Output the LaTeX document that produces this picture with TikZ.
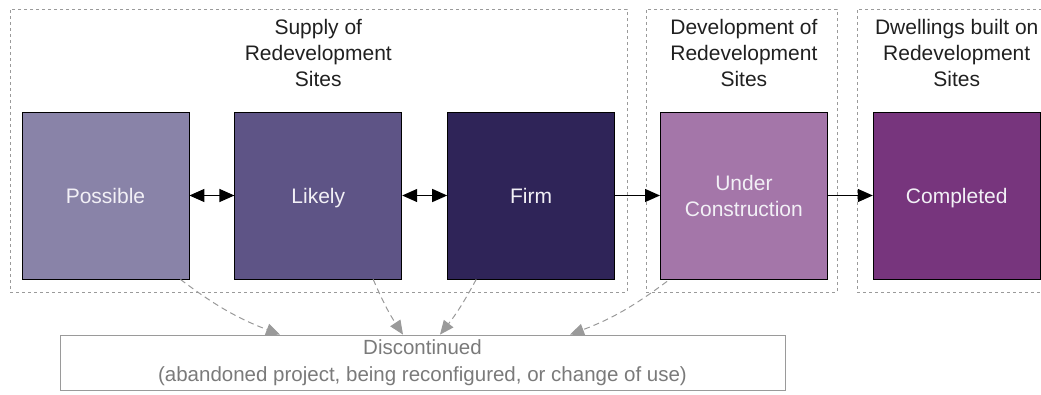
\documentclass[tikz,border=0pt]{standalone}
\usepackage{fontspec}
\setmainfont{Liberation Sans}
\usetikzlibrary{positioning,arrows.meta}
\definecolor{possible}{HTML}{8983A8}
\definecolor{likely}{HTML}{5E5486}
\definecolor{firm}{HTML}{2F2458}
\definecolor{under}{HTML}{A476A9}
\definecolor{done}{HTML}{77357D}
\definecolor{frame}{HTML}{9A9A9A}
\definecolor{greytext}{HTML}{7A7A7A}
\definecolor{titletext}{HTML}{202020}
\definecolor{boxtext}{HTML}{F2F0F6}

\begin{document}
\begin{tikzpicture}[
  x=1pt,y=-1pt,
  node distance=45pt,
  stage/.style={draw=black,line width=0.8pt,minimum width=167pt,minimum height=167pt,inner sep=0pt,align=center,text=boxtext,font=\fontsize{21}{26}\selectfont},
  oneline/.style={text height=16pt,text depth=1pt},
  ttl/.style={align=center,text=titletext,inner sep=0pt,font=\fontsize{21}{26}\selectfont},
  grp/.style={draw=frame,dashed,line width=0.7pt,inner sep=0pt},
  arr/.style={{Triangle[length=15pt,width=13pt]}-{Triangle[length=15pt,width=13pt]},line width=1.3pt,draw=black},
  fwd/.style={-{Triangle[length=15pt,width=13pt]},line width=1.3pt,draw=black},
  drop/.style={-{Triangle[length=14pt,width=12pt]},dash pattern=on 6pt off 4pt,line width=1pt,draw=frame}]
\useasboundingbox (0,0) rectangle (1041,394);
% stages
\node[stage,oneline,fill=possible] (poss) at (105.5,195.5) {Possible};
\node[stage,oneline,fill=likely,right=of poss] (likely) {Likely};
\node[stage,oneline,fill=firm,right=of likely] (firm) {Firm};
\node[stage,fill=under,right=of firm] (under) {Under\\Construction};
\node[stage,oneline,fill=done,right=of under] (done) {Completed};
% group frames and titles
\node[grp,minimum width=617pt,minimum height=283pt] (gsup) at (318.5,150.5) {};
\node[grp,minimum width=191pt,minimum height=283pt] (gdev) at (741.5,150.5) {};
\node[grp,minimum width=188pt,minimum height=283pt] (gdwl) at (951,150.5) {};
\node[ttl] (tsup) at ([yshift=59pt]likely.north) {Supply of\\Redevelopment\\Sites};
\node[ttl] (tdev) at ([yshift=59pt]under.north) {Development of\\Redevelopment\\Sites};
\node[ttl] (tdwl) at ([yshift=59pt]done.north) {Dwellings built on\\Redevelopment\\Sites};
% flow
\draw[arr] (poss) -- (likely);
\draw[arr] (likely) -- (firm);
\draw[fwd] (firm) -- (under);
\draw[fwd] (under) -- (done);
% discontinued
\node[draw=frame,line width=0.8pt,minimum width=725pt,minimum height=55pt,inner sep=0pt,align=center,text=greytext,font=\fontsize{20.5}{26.5}\selectfont] (disc) at (422.5,362.5) {Discontinued\\(abandoned project, being reconfigured, or change of use)};
\draw[drop] ([xshift=-9pt]poss.south east) to[bend right=8] ([xshift=-142.5pt]disc.north);
\draw[drop] ([xshift=-29pt]likely.south east) to[bend right=5] ([xshift=-19.5pt]disc.north);
\draw[drop] ([xshift=29pt]firm.south west) to[bend left=5] ([xshift=17.5pt]disc.north);
\draw[drop] ([xshift=7pt,yshift=-2pt]under.south west) to[bend left=8] ([xshift=147.5pt]disc.north);
\end{tikzpicture}
\end{document}
